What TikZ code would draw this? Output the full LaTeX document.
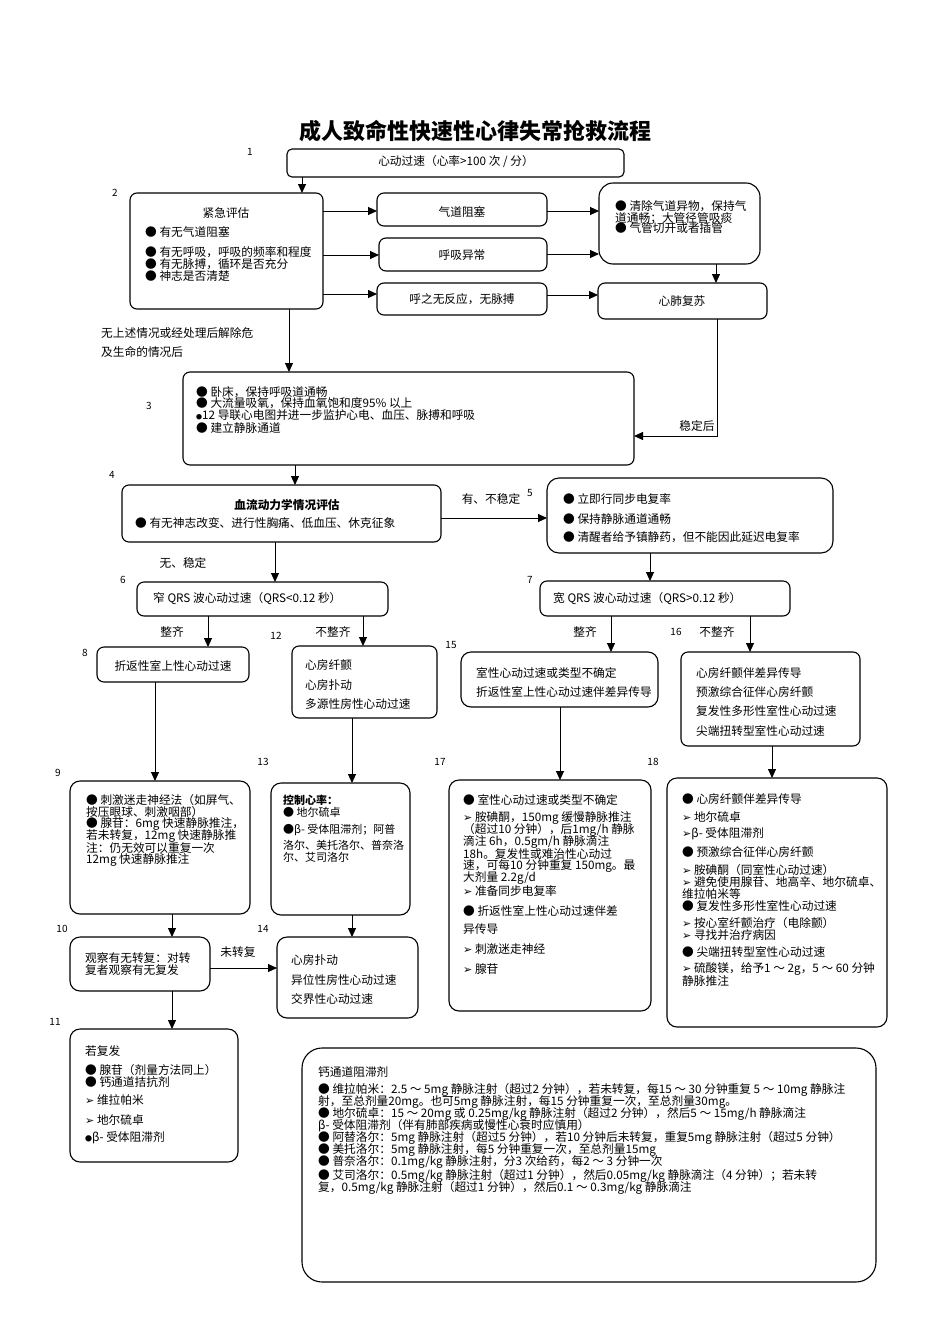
\documentclass[tikz,border=0pt]{standalone}
\usepackage{fontspec}
\setmainfont{Noto Sans CJK SC}
\newfontfamily\symf{DejaVu Sans}
\usetikzlibrary{arrows.meta}
\newcommand{\arw}{{\symf\fontsize{11}{11}\selectfont ➢}}
\newcounter{tlc}
\newcommand{\tl}[4][]{\stepcounter{tlc}\node[txt,#1] (t\arabic{tlc}) at (#2,#3) {#4};}
\newcommand{\bx}[6][]{\node[box,#1,minimum width={(#5-#3)*1pt},minimum height={(#6-#4)*1pt}] (#2) at ({(#3+#5)/2},{(#4+#6)/2}) {};}
\begin{document}
\begin{tikzpicture}[x=1pt,y=-1pt,
  box/.style={draw, line width=1.1pt, rounded corners=7pt, inner sep=0pt, outer sep=0pt},
  txt/.style={anchor=west, inner sep=0pt, font=\fontsize{11.7}{12}\selectfont},
  small/.style={font=\fontsize{11}{12}\selectfont},
  ctr/.style={anchor=center},
  lbl/.style={inner sep=0pt, font=\fontsize{10}{12}\selectfont},
  arr/.style={line width=1pt, -{Triangle[length=9pt,width=8pt]}}]
\useasboundingbox[fill=white] (0,0) rectangle (950,1344);
% title
\node[inner sep=0pt, font=\fontsize{22}{26}\selectfont\bfseries] (title) at (475,131) {成人致命性快速性心律失常抢救流程};
% boxes
\bx[rounded corners=5pt]{b1}{287}{149}{624}{177}
\bx{b2}{130}{193}{323}{309}
\bx{bq}{377}{193}{547}{226}
\bx{bh}{379}{238}{547}{271}
\bx{bn}{377}{283}{547}{315}
\bx[rounded corners=14pt]{br}{599}{183}{760}{264}
\bx{cpr}{598}{283}{767}{319}
\bx{b3}{183}{372}{634}{465}
\bx{b4}{122}{485}{441}{542}
\bx[rounded corners=12pt]{b5}{547}{478}{833}{553}
\bx{b6}{137}{582}{388}{616}
\bx{b7}{540}{581}{790}{616}
\bx{b8}{97}{647}{249}{682}
\bx{b12}{292}{646}{437}{718}
\bx[rounded corners=10pt]{b15}{461}{652}{658}{707}
\bx{b16}{681}{652}{860}{746}
\bx[rounded corners=10pt]{b9}{70}{781}{250}{914}
\bx[rounded corners=10pt]{b13}{271}{783}{410}{915}
\bx[rounded corners=10pt]{b10}{70}{937}{210}{991}
\bx[rounded corners=10pt]{b14}{277}{937}{418}{1018}
\bx[rounded corners=10pt]{b11}{70}{1029}{238}{1162}
\bx[rounded corners=10pt]{b17}{449}{780}{651}{1011}
\bx[rounded corners=10pt]{b18}{667}{778}{887}{1027}
\bx[rounded corners=20pt]{b19}{302}{1048}{876}{1282}
% number labels
\node[lbl] (n1) at (250,152) {1};
\node[lbl] (n2) at (115,193) {2};
\node[lbl] (n3) at (149,406) {3};
\node[lbl] (n4) at (112,475) {4};
\node[lbl] (n5) at (530,493) {5};
\node[lbl] (n6) at (123,580) {6};
\node[lbl] (n7) at (530,580) {7};
\node[lbl] (n8) at (85,653) {8};
\node[lbl] (n12) at (276,636) {12};
\node[lbl] (n15) at (451,645) {15};
\node[lbl] (n16) at (676,632) {16};
\node[lbl] (n9) at (58,773) {9};
\node[lbl] (n13) at (263,762) {13};
\node[lbl] (n17) at (440,762) {17};
\node[lbl] (n18) at (653,762) {18};
\node[lbl] (n10) at (62,929) {10};
\node[lbl] (n14) at (263,929) {14};
\node[lbl] (n11) at (55,1022) {11};
% connectors
\draw[arr] (b1.south -| 302,0) -- (b2.north -| 302,0);
\draw[arr] (b2.east |- 0,211) -- (bq.west |- 0,211);
\draw[arr] (b2.east |- 0,255) -- (bh.west |- 0,255);
\draw[arr] (b2.east |- 0,294) -- (bn.west |- 0,294);
\draw[arr] (bq.east |- 0,211) -- (br.west |- 0,211);
\draw[arr] (bh.east |- 0,254) -- (br.west |- 0,254);
\draw[arr] (bn.east |- 0,295) -- (cpr.west |- 0,295);
\draw[arr] (br.south -| 716,0) -- (cpr.north -| 716,0);
\draw[arr] (cpr.south -| 717,0) |- (b3.east |- 0,436);
\draw[arr] (b2.south -| 289,0) -- (b3.north -| 289,0);
\draw[arr] (b3.south -| 295,0) -- (b4.north -| 295,0);
\draw[arr] (b4.east |- 0,518) -- (b5.west |- 0,518);
\draw[arr] (b4.south -| 275,0) -- (b6.north -| 275,0);
\draw[arr] (b5.south -| 650,0) -- (b7.north -| 650,0);
\draw[arr] (b6.south -| 208,0) -- (b8.north -| 208,0);
\draw[arr] (b6.south -| 363,0) -- (b12.north -| 363,0);
\draw[arr] (b7.south -| 611,0) -- (b15.north -| 611,0);
\draw[arr] (b7.south -| 750,0) -- (b16.north -| 750,0);
\draw[arr] (b8.south -| 155,0) -- (b9.north -| 155,0);
\draw[arr] (b12.south -| 352,0) -- (b13.north -| 352,0);
\draw[arr] (b15.south -| 560,0) -- (b17.north -| 560,0);
\draw[arr] (b16.south -| 772,0) -- (b18.north -| 772,0);
\draw[arr] (b9.south -| 172,0) -- (b10.north -| 172,0);
\draw[arr] (b13.south -| 352,0) -- (b14.north -| 352,0);
\draw[arr] (b10.east |- 0,968) -- (b14.west |- 0,968);
\draw[arr] (b10.south -| 172,0) -- (b11.north -| 172,0);
% connector labels
\tl{101}{333}{无上述情况或经处理后解除危}
\tl{101}{352}{及生命的情况后}
\tl[ctr]{697}{426}{稳定后}
\tl[ctr]{491}{499}{有、不稳定}
\tl[ctr]{183}{563}{无、稳定}
\tl[ctr]{172}{632}{整齐}
\tl[ctr]{333}{632}{不整齐}
\tl[ctr]{585}{632}{整齐}
\tl[ctr]{717}{632}{不整齐}
\tl[ctr]{238}{952}{未转复}
% box texts
\tl[ctr]{456}{162}{心动过速（心率>100 次 / 分）}
\tl[ctr]{226}{213}{紧急评估}
\tl{145}{232}{● 有无气道阻塞}
\tl{145}{252}{● 有无呼吸，呼吸的频率和程度}
\tl{145}{264}{● 有无脉搏，循环是否充分}
\tl{145}{276}{● 神志是否清楚}
\tl[ctr]{462}{212}{气道阻塞}
\tl[ctr]{462}{255}{呼吸异常}
\tl[ctr]{462}{299}{呼之无反应，无脉搏}
\tl{615}{206}{● 清除气道异物，保持气}
\tl{615}{218}{道通畅；大管径管吸痰}
\tl{615}{228}{● 气管切开或者插管}
\tl[ctr]{682}{301}{心肺复苏}
\tl{196}{392}{● 卧床，保持呼吸道通畅}
\tl{196}{403}{● 大流量吸氧，保持血氧饱和度95\% 以上}
\tl{196}{415}{{\fontsize{6}{6}\selectfont ●}12 导联心电图并进一步监护心电、血压、脉搏和呼吸}
\tl{196}{428}{● 建立静脉通道}
\tl[ctr,font=\fontsize{11.7}{12}\selectfont\bfseries]{287}{505}{血流动力学情况评估}
\tl{135}{523}{● 有无神志改变、进行性胸痛、低血压、休克征象}
\tl{563}{499}{● 立即行同步电复率}
\tl{563}{519}{● 保持静脉通道通畅}
\tl{563}{537}{● 清醒者给予镇静药，但不能因此延迟电复率}
\tl{153}{599}{窄 QRS 波心动过速（QRS<0.12 秒）}
\tl{553}{599}{宽 QRS 波心动过速（QRS>0.12 秒）}
\tl[ctr]{173}{666}{折返性室上性心动过速}
\tl{305}{665}{心房纤颤}
\tl{305}{685}{心房扑动}
\tl{305}{704}{多源性房性心动过速}
\tl{476}{673}{室性心动过速或类型不确定}
\tl{476}{692}{折返性室上性心动过速伴差异传导}
\tl{696}{673}{心房纤颤伴差异传导}
\tl{696}{692}{预激综合征伴心房纤颤}
\tl{696}{711}{复发性多形性室性心动过速}
\tl{696}{731}{尖端扭转型室性心动过速}
% box 9
\tl{86}{800}{● 刺激迷走神经法（如屏气、}
\tl{86}{812}{按压眼球、刺激咽部）}
\tl{86}{824}{● 腺苷：6mg 快速静脉推注，}
\tl{86}{836}{若未转复，12mg 快速静脉推}
\tl{86}{848}{注：仍无效可以重复一次}
\tl{86}{860}{12mg 快速静脉推注}
% box 13
\tl[font=\fontsize{11}{12}\selectfont\bfseries]{283}{800}{控制心率：}
\tl[small]{283}{812}{● 地尔硫卓}
\tl[small]{283}{830}{●β- 受体阻滞剂；阿普}
\tl[small]{283}{845}{洛尔、美托洛尔、普奈洛}
\tl[small]{283}{857}{尔、艾司洛尔}
% box 10
\tl{85}{958}{观察有无转复：对转}
\tl{85}{970}{复者观察有无复发}
% box 14
\tl{291}{960}{心房扑动}
\tl{291}{980}{异位性房性心动过速}
\tl{291}{999}{交界性心动过速}
% box 11
\tl{85}{1051}{若复发}
\tl{85}{1070}{● 腺苷（剂量方法同上）}
\tl{85}{1082}{● 钙通道拮抗剂}
\tl{85}{1100}{\arw\ 维拉帕米}
\tl{85}{1120}{\arw\ 地尔硫卓}
\tl{85}{1138}{{\fontsize{7}{7}\selectfont ●}β- 受体阻滞剂}
% box 17
\tl{463}{800}{● 室性心动过速或类型不确定}
\tl{463}{818}{\arw\ 胺碘酮，150mg 缓慢静脉推注}
\tl{463}{830}{（超过10 分钟），后1mg/h 静脉}
\tl{463}{842}{滴注 6h，0.5gm/h 静脉滴注}
\tl{463}{854}{18h。复发性或难治性心动过}
\tl{463}{866}{速，可每10 分钟重复 150mg。最}
\tl{463}{878}{大剂量 2.2g/d}
\tl{463}{891}{\arw\ 准备同步电复率}
\tl{463}{911}{● 折返性室上性心动过速伴差}
\tl{463}{929}{异传导}
\tl{463}{949}{\arw\ 刺激迷走神经}
\tl{463}{969}{\arw\ 腺苷}
% box 18
\tl{682}{799}{● 心房纤颤伴差异传导}
\tl{682}{817}{\arw\ 地尔硫卓}
\tl{682}{834}{\arw β- 受体阻滞剂}
\tl{682}{852}{● 预激综合征伴心房纤颤}
\tl{682}{870}{\arw\ 胺碘酮（同室性心动过速）}
\tl{682}{882}{\arw\ 避免使用腺苷、地高辛、地尔硫卓、}
\tl{682}{894}{维拉帕米等}
\tl{682}{906}{● 复发性多形性室性心动过速}
\tl{682}{923}{\arw\ 按心室纤颤治疗（电除颤）}
\tl{682}{935}{\arw\ 寻找并治疗病因}
\tl{682}{952}{● 尖端扭转型室性心动过速}
\tl{682}{969}{\arw\ 硫酸镁，给予1 ～ 2g，5 ～ 60 分钟}
\tl{682}{981}{静脉推注}
% bottom box
\tl{318}{1072}{钙通道阻滞剂}
\tl{318}{1090}{● 维拉帕米：2.5 ～ 5mg 静脉注射（超过2 分钟），若未转复，每15 ～ 30 分钟重复 5 ～ 10mg 静脉注}
\tl{318}{1102}{射，至总剂量20mg。也可5mg 静脉注射，每15 分钟重复一次，至总剂量30mg。}
\tl{318}{1114}{● 地尔硫卓：15 ～ 20mg 或 0.25mg/kg 静脉注射（超过2 分钟），然后5 ～ 15mg/h 静脉滴注}
\tl{318}{1126}{β- 受体阻滞剂（伴有肺部疾病或慢性心衰时应慎用）}
\tl{318}{1138}{● 阿替洛尔：5mg 静脉注射（超过5 分钟），若10 分钟后未转复，重复5mg 静脉注射（超过5 分钟）}
\tl{318}{1150}{● 美托洛尔：5mg 静脉注射，每5 分钟重复一次，至总剂量15mg}
\tl{318}{1162}{● 普奈洛尔：0.1mg/kg 静脉注射，分3 次给药，每2 ～ 3 分钟一次}
\tl{318}{1176}{● 艾司洛尔：0.5mg/kg 静脉注射（超过1 分钟），然后0.05mg/kg 静脉滴注（4 分钟）；若未转}
\tl{318}{1188}{复，0.5mg/kg 静脉注射（超过1 分钟），然后0.1 ～ 0.3mg/kg 静脉滴注}
\end{tikzpicture}
\end{document}
